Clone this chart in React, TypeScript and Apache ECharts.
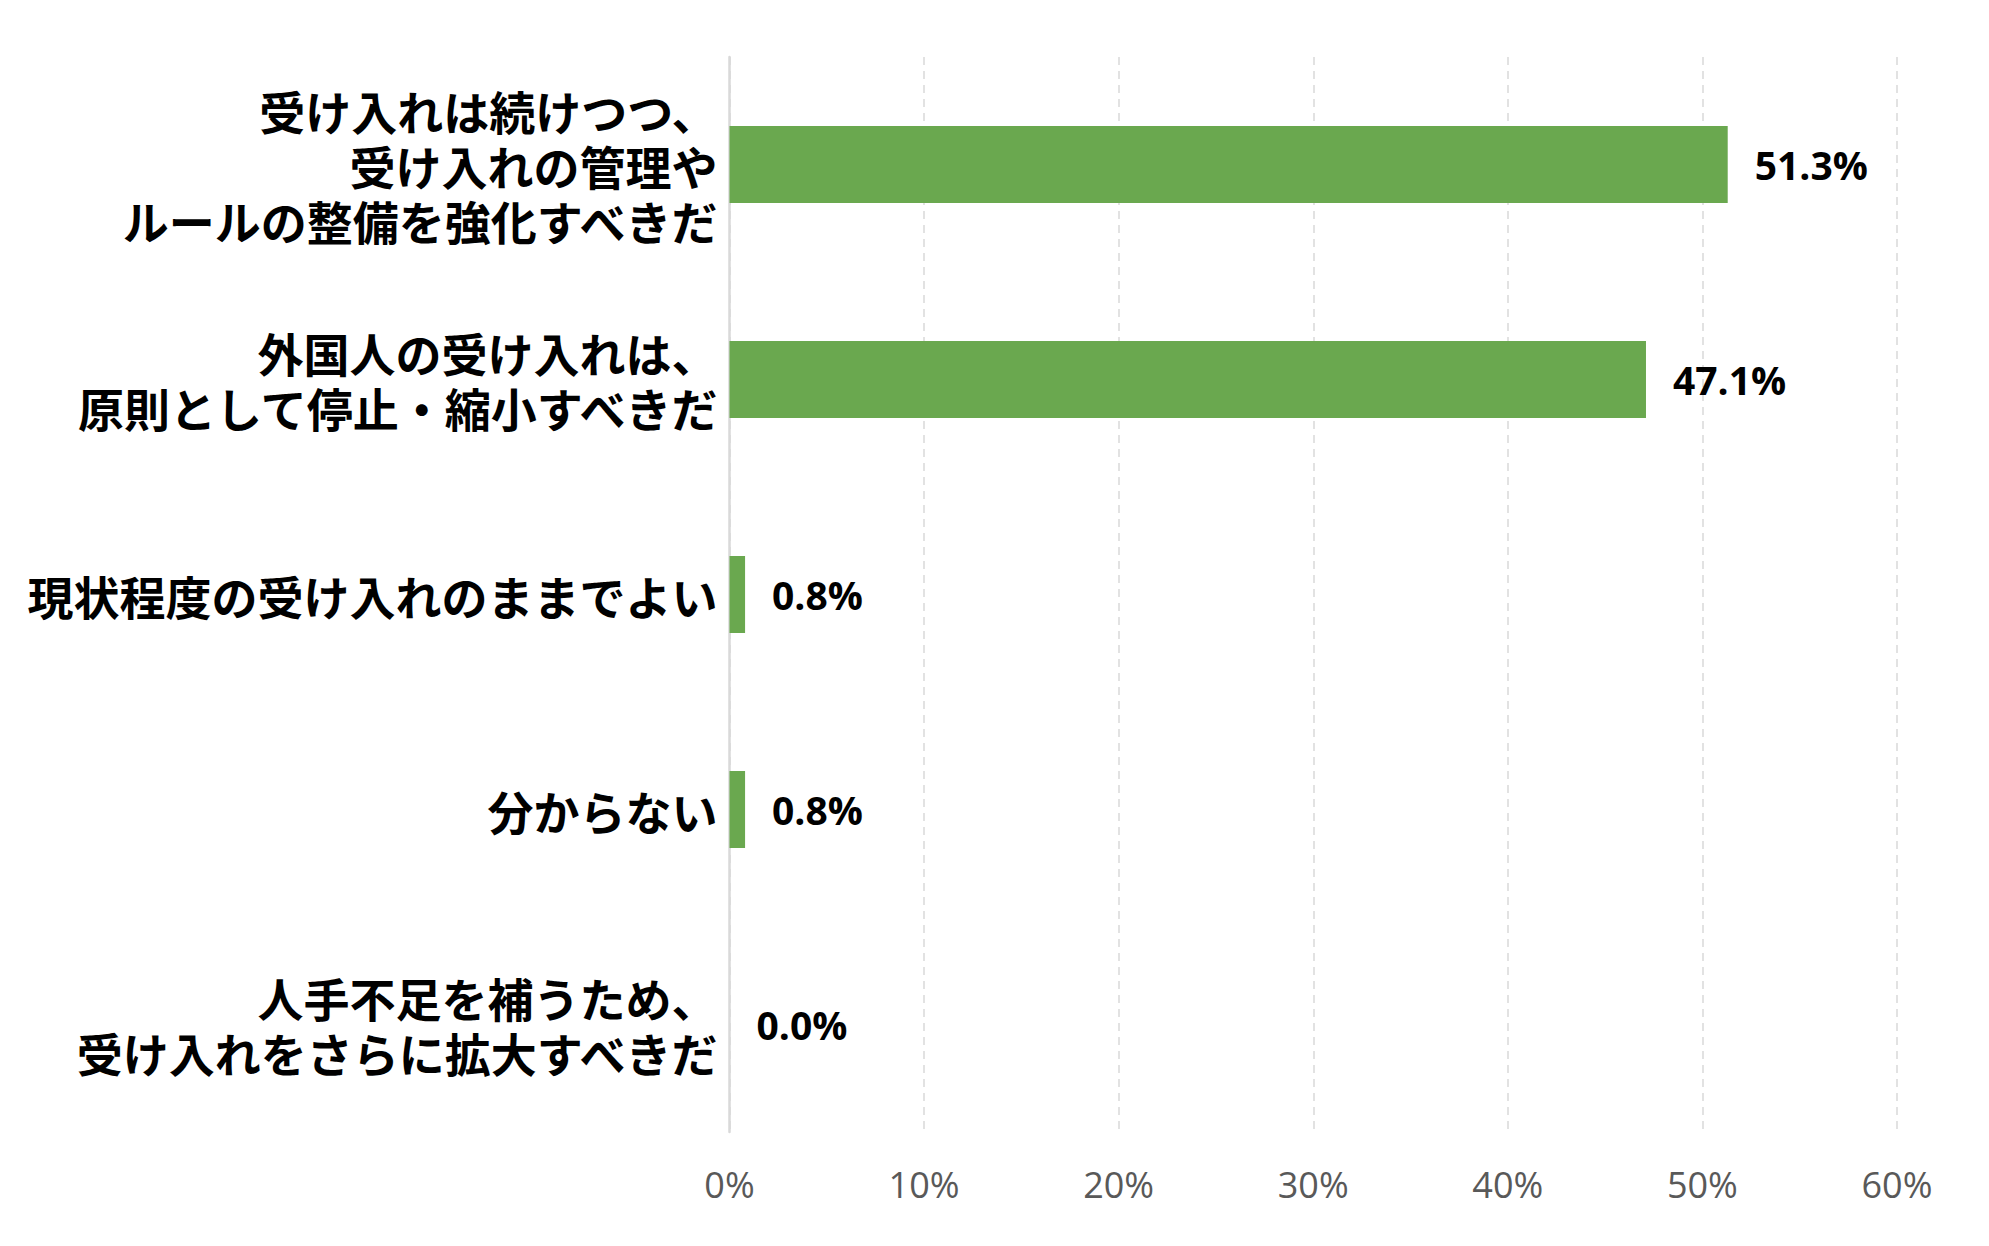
import React, { useEffect, useRef } from "react";
import * as echarts from "echarts";

const categories: string[] = [
  "受け入れは続けつつ、\n受け入れの管理や\nルールの整備を強化すべきだ",
  "外国人の受け入れは、\n原則として停止・縮小すべきだ",
  "現状程度の受け入れのままでよい",
  "分からない",
  "人手不足を補うため、\n受け入れをさらに拡大すべきだ",
];

const values: number[] = [51.3, 47.1, 0.8, 0.8, 0.0];

const axisMin = 0;
const axisMax = 60;
const axisStep = 10;

export default function App() {
  const ref = useRef<HTMLDivElement | null>(null);

  useEffect(() => {
    if (!ref.current) return;
    const chart = echarts.init(ref.current, undefined, { renderer: "svg" });
    chart.setOption({
      animation: false,
      backgroundColor: "#ffffff",
      grid: { left: 729.5, right: 92, top: 57, bottom: 114, containLabel: false },
      xAxis: {
        type: "value",
        min: axisMin,
        max: axisMax,
        interval: axisStep,
        axisLine: { show: false },
        axisTick: { show: false },
        axisLabel: {
          formatter: "{value}%",
          color: "#595959",
          fontFamily: "Open Sans",
          fontSize: 36,
          margin: 34,
        },
        splitLine: {
          show: true,
          lineStyle: { color: "#d9d9d9", type: [8, 6], width: 1.5 },
        },
      },
      yAxis: {
        type: "category",
        data: categories,
        inverse: true,
        axisLine: { show: true, lineStyle: { color: "#d9d9d9", width: 2.5 } },
        axisTick: { show: false },
        axisLabel: {
          color: "#000000",
          fontFamily: "Noto Sans CJK JP",
          fontWeight: "bold",
          fontSize: 46,
          lineHeight: 55,
          margin: 12,
          align: "right",
        },
        splitLine: { show: false },
      },
      series: [
        {
          type: "bar",
          data: values,
          barWidth: 77,
          itemStyle: { color: "#6aa84f" },
          label: {
            show: true,
            position: "right",
            distance: 27,
            formatter: (p: any) => Number(p.value).toFixed(1) + "%",
            color: "#000000",
            fontFamily: "Open Sans",
            fontWeight: "bold",
            fontSize: 39,
          },
        },
      ],
    });
    return () => chart.dispose();
  }, []);

  return (
    <div
      ref={ref}
      style={{ position: "fixed", left: 0, top: 0, width: 1989, height: 1246 }}
    />
  );
}
